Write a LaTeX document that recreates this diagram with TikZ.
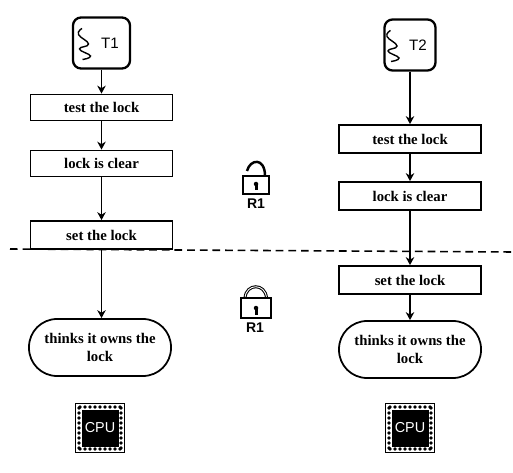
\documentclass[tikz,border=0pt]{standalone}
\usepackage{fontspec}
\setmainfont{Liberation Serif}
\setsansfont{Liberation Sans}
\usetikzlibrary{shapes, arrows.meta, positioning, calc}

% small drawings that repeat
\newcommand{\squiggle}[1]{
  \begin{scope}[shift={(#1.center)}]
    \draw[line width=0.8pt] plot[smooth, tension=0.8] coordinates
      {(-0.39,0.29) (-0.46,0.17) (-0.26,-0.02) (-0.44,-0.12) (-0.22,-0.26) (-0.38,-0.33)};
  \end{scope}
}
\newcommand{\padlock}[4]{
  \draw[line width=1pt, fill=white] (#1,#2) rectangle ++(#3,#4);
  \fill (#1+0.5*#3-0.03,#2+0.07) rectangle ++(0.06,0.13);
  \fill (#1+0.5*#3,#2+0.2) circle (0.045);
}
\newcommand{\cpuchip}[1]{
  \draw[line width=0.6pt, fill=white] ($(#1.center)+(-0.49,-0.49)$) rectangle ++(0.98,0.98);
  \fill[black] ($(#1.center)+(-0.37,-0.37)$) rectangle ++(0.74,0.74);
  \foreach \s in {-0.4,-0.3,-0.2,-0.1,0,0.1,0.2,0.3,0.4} {
    \fill ($(#1.center)+(\s,0.42)$) circle (0.037);
    \fill ($(#1.center)+(\s,-0.42)$) circle (0.037);
    \fill ($(#1.center)+(0.42,\s)$) circle (0.037);
    \fill ($(#1.center)+(-0.42,\s)$) circle (0.037);
  }
}

\begin{document}
\begin{tikzpicture}[
    stepbox/.style={draw, line width=1pt, minimum width=2.84cm, minimum height=0.52cm,
                    inner sep=0pt, font=\fontsize{8.4}{10}\selectfont\bfseries},
    oval/.style={draw, line width=1pt, rounded corners=0.56cm, minimum width=2.84cm,
                 minimum height=1.14cm, inner sep=0pt, align=center,
                 font=\fontsize{8.4}{10.6}\selectfont\bfseries},
    threadbox/.style={draw, line width=1.3pt, rounded corners=0.16cm, minimum width=1.14cm,
                      minimum height=1.02cm, inner sep=0pt,
                      font=\fontsize{8.6}{10}\selectfont\sffamily},
    chip/.style={minimum size=1cm, inner sep=0pt, text=white,
                 font=\fontsize{8.2}{10}\selectfont\sffamily},
    lockname/.style={inner sep=0pt, font=\fontsize{8}{9}\selectfont\sffamily\bfseries},
    arr/.style={-{Stealth[length=1.6mm,width=1.7mm]}, line width=1pt}
  ]
    \useasboundingbox (0,0) rectangle (10.26,9.44);

    % the line
    \coordinate (lineA) at (0.2, 4.46);
    \coordinate (lineB) at (10.26, 4.40);
    \draw[line width=0.9pt, dash pattern=on 4.4pt off 2.8pt] (lineA) -- (lineB);

    % left side
    \node[threadbox] (t1) at (2.03, 8.58) {\hspace{3.4mm}T1};
    \node[stepbox] (test1) at (2.03, 7.29) {test the lock};
    \node[stepbox] (clear1) at (2.03, 6.17) {lock is clear};
    \node[stepbox, minimum height=0.56cm, fill=white] (set1) at (2.03, 4.74) {set the lock};
    \node[oval] (own1) at (2.0, 2.49) {thinks it owns the\\lock};
    \node[chip] (cpu1) at (2.0, 0.88) {};

    % right side
    \node[threadbox, minimum width=1.02cm] (t2) at (8.2, 8.54) {\hspace{3.2mm}T2};
    \node[stepbox, minimum height=0.56cm] (test2) at (8.2, 6.66) {test the lock};
    \node[stepbox, minimum height=0.56cm] (clear2) at (8.2, 5.52) {lock is clear};
    \node[stepbox, minimum height=0.56cm] (set2) at (8.2, 3.84) {set the lock};
    \node[oval] (own2) at (8.2, 2.45) {thinks it owns the\\lock};
    \node[chip] (cpu2) at (8.2, 0.88) {};

    \draw[arr] (t1) -- (test1);
    \draw[arr] (test1) -- (clear1);
    \draw[arr] (clear1) -- (set1);
    \draw[arr] (set1) -- (own1.north -| set1);
    \draw[arr] (t2) -- (test2);
    \draw[arr] (test2) -- (clear2);
    \draw[arr] (clear2) -- (set2);
    \draw[arr] (set2) -- (own2);

    \squiggle{t1}
    \squiggle{t2}

    % the chips
    \cpuchip{cpu1}
    \cpuchip{cpu2}
    \node[chip] at (cpu1) {CPU};
    \node[chip] at (cpu2) {CPU};

    % the locks
    \draw[line width=1.4pt] (4.94,6.02) .. controls (5.0,6.26) and (5.3,6.3) .. (5.3,5.92);
    \padlock{4.86}{5.56}{0.52}{0.36}
    \node[lockname] (open) at (5.12, 5.37) {R1};
    \draw[line width=0.6pt, double, double distance=0.5pt] (4.9,3.48) .. controls (4.92,3.78) and (5.31,3.78) .. (5.33,3.48);
    \padlock{4.82}{3.08}{0.6}{0.4}
    \node[lockname] (closed) at (5.1, 2.88) {R1};
  \end{tikzpicture}
\end{document}
